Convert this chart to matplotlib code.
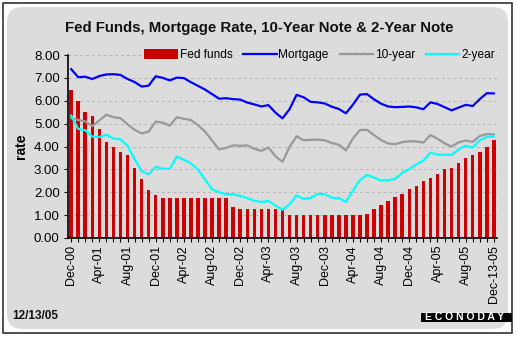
import numpy as np
import matplotlib
matplotlib.use("Agg")
import matplotlib.pyplot as plt
from matplotlib.patches import FancyBboxPatch, Rectangle, Patch
from matplotlib.lines import Line2D

plt.rcParams['font.family'] = ['Liberation Sans', 'DejaVu Sans']

# monthly observations Dec-00 .. Nov-05, plus Dec-13-05
fed_funds = [6.49, 6.01, 5.51, 5.32, 4.78, 4.20, 3.98, 3.76, 3.62, 3.07, 2.56, 2.11, 1.86,
             1.75, 1.75, 1.75, 1.75, 1.75, 1.75, 1.75, 1.75, 1.75, 1.75, 1.36, 1.26,
             1.26, 1.26, 1.26, 1.26, 1.26, 1.24, 1.02, 1.02, 1.02, 1.02, 1.02, 1.01,
             1.01, 1.01, 1.01, 1.01, 1.01, 1.03, 1.27, 1.44, 1.62, 1.78, 1.94, 2.16,
             2.28, 2.50, 2.63, 2.79, 3.00, 3.04, 3.26, 3.50, 3.62, 3.78, 4.00, 4.27]
mortgage = [7.38, 7.03, 7.05, 6.95, 7.08, 7.15, 7.16, 7.13, 6.95, 6.82, 6.62, 6.66, 7.07,
            7.00, 6.89, 7.01, 6.99, 6.81, 6.65, 6.49, 6.29, 6.09, 6.11, 6.07, 6.05,
            5.92, 5.84, 5.75, 5.81, 5.48, 5.23, 5.63, 6.26, 6.15, 5.95, 5.93, 5.88,
            5.74, 5.64, 5.45, 5.83, 6.27, 6.29, 6.06, 5.87, 5.75, 5.72, 5.73, 5.75,
            5.71, 5.63, 5.93, 5.86, 5.72, 5.58, 5.70, 5.82, 5.77, 6.07, 6.33, 6.32]
ten_year = [5.24, 5.16, 5.10, 4.89, 5.14, 5.39, 5.28, 5.24, 4.97, 4.73, 4.57, 4.65, 5.09,
            5.04, 4.91, 5.28, 5.21, 5.16, 4.93, 4.65, 4.26, 3.87, 3.94, 4.05, 4.03,
            4.05, 3.90, 3.81, 3.96, 3.57, 3.33, 3.98, 4.45, 4.27, 4.29, 4.30, 4.27,
            4.15, 4.08, 3.83, 4.35, 4.72, 4.73, 4.50, 4.28, 4.13, 4.10, 4.19, 4.23,
            4.22, 4.17, 4.50, 4.34, 4.14, 4.00, 4.18, 4.26, 4.20, 4.46, 4.54, 4.53]
two_year = [5.35, 4.77, 4.71, 4.43, 4.42, 4.51, 4.35, 4.31, 4.04, 3.45, 2.93, 2.78, 3.11,
            3.03, 3.02, 3.56, 3.42, 3.26, 2.99, 2.56, 2.13, 2.00, 1.91, 1.92, 1.84,
            1.74, 1.63, 1.57, 1.62, 1.42, 1.23, 1.47, 1.86, 1.71, 1.75, 1.93, 1.91,
            1.76, 1.74, 1.58, 2.07, 2.53, 2.76, 2.64, 2.51, 2.53, 2.58, 2.85, 3.01,
            3.22, 3.38, 3.73, 3.65, 3.64, 3.64, 3.87, 4.04, 3.95, 4.27, 4.42, 4.44]
tick_labels = ['Dec-00', 'Apr-01', 'Aug-01', 'Dec-01', 'Apr-02', 'Aug-02', 'Dec-02',
               'Apr-03', 'Aug-03', 'Dec-03', 'Apr-04', 'Aug-04', 'Dec-04', 'Apr-05',
               'Aug-05', 'Dec-13-05']

bg = '#dcdcdc'
x = np.arange(len(fed_funds))

fig = plt.figure(figsize=(5.16, 3.37), dpi=100)
fig.patch.set_facecolor('white')

# outer frame and rounded grey panel (behind the axes)
fig.patches.append(Rectangle((3 / 516, 4 / 337), 509 / 516, 330 / 337, transform=fig.transFigure,
                             facecolor='white', edgecolor='#333333', linewidth=1.2, zorder=-3))
fig.patches.append(FancyBboxPatch((7 / 516, 8 / 337), 501 / 516, 322 / 337,
                                  boxstyle='round,pad=0,rounding_size=0.03',
                                  transform=fig.transFigure, facecolor=bg,
                                  edgecolor='none', zorder=-2, mutation_aspect=516 / 337))

ax = fig.add_axes([68 / 516, 99 / 337, 429 / 516, 183 / 337])
ax.set_facecolor('none')

ax.bar(x, fed_funds, width=0.5, color='#cc0000', zorder=2)
ax.plot(x, mortgage, color='#0000ff', lw=1.6, zorder=3)
ax.plot(x, ten_year, color='#999999', lw=1.6, zorder=3)
ax.plot(x, two_year, color='#00ffff', lw=1.6, zorder=3)

ax.set_xlim(-0.45, len(x) - 0.55)
ax.set_ylim(0, 8)
ax.set_yticks(np.arange(0, 9, 1))
ax.set_yticklabels(['%.2f' % v for v in np.arange(0, 9, 1)], fontsize=9.5)
ax.yaxis.grid(True, color='#b4b4b4', linestyle=(0, (3, 3)), lw=0.7)
ax.set_axisbelow(True)

major = list(range(0, 60, 4)) + [60]
ax.set_xticks(major)
ax.set_xticklabels(tick_labels, rotation=90, fontsize=9)
ax.set_xticks(x, minor=True)
ax.tick_params(axis='x', which='both', direction='out', length=3, width=0.8, pad=2)
ax.tick_params(axis='y', direction='out', length=3, width=0.8, pad=3)

for s in ['top', 'right']:
    ax.spines[s].set_visible(False)
for s in ['left', 'bottom']:
    ax.spines[s].set_linewidth(1.2)

ax.set_ylabel('rate', fontsize=10, fontweight='bold', labelpad=4)

handles = [Patch(facecolor='#cc0000'),
           Line2D([], [], color='#0000ff', lw=1.6),
           Line2D([], [], color='#999999', lw=1.6),
           Line2D([], [], color='#00ffff', lw=1.6)]
leg = ax.legend(handles, ['Fed funds', 'Mortgage', '10-year', '2-year'], ncol=4,
                loc='center right', bbox_to_anchor=(1.0, 1.0), frameon=True,
                fontsize=8.6, handlelength=2.8, handletextpad=0.15, columnspacing=0.9,
                borderpad=0.1, borderaxespad=0.1, handleheight=0.9)
leg.get_frame().set_facecolor(bg)
leg.get_frame().set_edgecolor('none')

fig.text(259 / 516, 1 - 28 / 337, 'Fed Funds, Mortgage Rate, 10-Year Note & 2-Year Note',
         ha='center', va='center', fontsize=10.8, fontweight='bold', color='#111111')
fig.text(12 / 516, 1 - 316 / 337, '12/13/05', ha='left', va='center',
         fontsize=8.5, fontweight='bold', color='#111111')

# ECONODAY badge
fig.patches.append(Rectangle((421 / 516, 1 - 322 / 337), 91 / 516, 9 / 337,
                             transform=fig.transFigure, facecolor='black', zorder=3))
fig.text(465 / 516, 1 - 317.5 / 337, 'E C O N O D A Y', ha='center', va='center', fontsize=7.5,
         fontweight='bold', color='white', zorder=4)

fig.savefig('out.png', dpi=100, facecolor=fig.get_facecolor())
